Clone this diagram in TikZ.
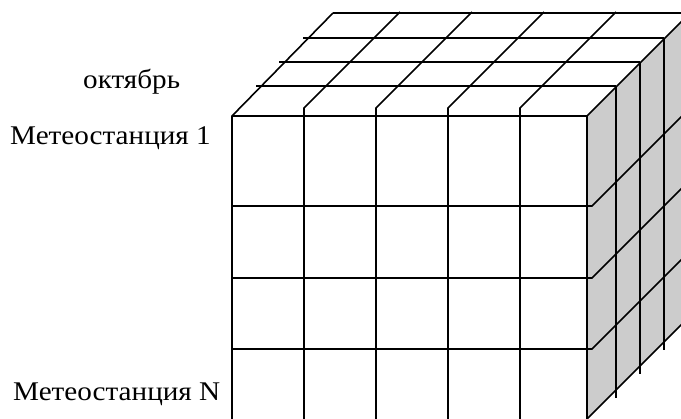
\documentclass[tikz,border=0pt]{standalone}
\usepackage{fontspec}
\setmainfont{Liberation Serif}
\definecolor{sidegray}{RGB}{204,204,204}
\begin{document}
\begin{tikzpicture}[x=1pt,y=-1pt,
  gridline/.style={draw=black,line width=1.6pt,line join=miter},
  lbl/.style={font=\fontsize{27}{32}\selectfont,inner sep=0pt,anchor=base west,xscale=1.08}]
\useasboundingbox (0,0) rectangle (681,419);
\clip (0,0) rectangle (681,419);
% right face fill
\fill[sidegray] (587,116) -- (690,13) -- (690,316) -- (587,419) -- cycle;
% top face horizontals
\draw[gridline] (333,13) -- (700,13);
\draw[gridline] (303,38) -- (664,38);
\draw[gridline] (279,62) -- (640,62);
\draw[gridline] (256,86) -- (616,86);
% front face outline top
\draw[gridline] (232,419) -- (232,116) -- (333,13);
\draw[gridline] (232,116) -- (587,116);
\draw[gridline] (587,419) -- (587,116) -- (690,13);
% inner front verticals with top diagonals
\foreach \x in {304,376,448,520}
  \draw[gridline] (\x,419) -- (\x,108) -- (\x+96,12);
% front horizontals with right diagonals
\foreach \y in {206,278,349}
  \draw[gridline] (232,\y) -- (592,\y) -- (690,\y-98);
% right face bottom edge
\draw[gridline] (587,419) -- (690,316);
% right face verticals
\draw[gridline] (616,86) -- (616,398);
\draw[gridline] (640,62) -- (640,374);
\draw[gridline] (664,38) -- (664,350);
% labels
\node[lbl] (month) at (83,89) {октябрь};
\node[lbl] (st1) at (10,145) {Метеостанция 1};
\node[lbl] (stN) at (13,401) {Метеостанция N};
\end{tikzpicture}
\end{document}
